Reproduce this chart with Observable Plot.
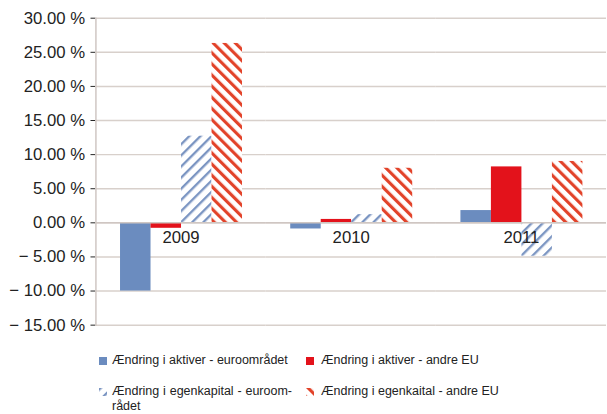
<!DOCTYPE html>
<html><head><meta charset="utf-8">
<script src="https://cdn.jsdelivr.net/npm/d3@7"></script>
<script src="https://cdn.jsdelivr.net/npm/@observablehq/plot@0.6"></script>
<style>
html,body{margin:0;padding:0;background:#fff;overflow:hidden;}
#chart{position:relative;width:607px;height:414px;overflow:hidden;font-family:"Liberation Sans",Arial,sans-serif;}
#chart svg.plot{position:absolute;left:0;top:0;}
svg [aria-label="y-axis tick"]{stroke:#cfc6c2;}
.lg{position:absolute;font-size:12.5px;color:#222;line-height:15px;white-space:nowrap;}
.sw{position:absolute;}
</style></head><body><div id="chart"></div>
<script>
const years = ["2009", "2010", "2011"];
const seriesNames = [
  "Ændring i aktiver - euroområdet",
  "Ændring i aktiver - andre EU",
  "Ændring i egenkapital - euroområdet",
  "Ændring i egenkaital - andre EU"
];
const aktiverEuro = [-10.0, -0.9, 1.8];
const aktiverAndreEU = [-0.8, 0.5, 8.2];
const egenkapitalEuro = [12.7, 1.2, -4.9];
const egenkapitalAndreEU = [26.3, 8.0, 9.0];
const yTicks = [-15, -10, -5, 0, 5, 10, 15, 20, 25, 30];
const seriesColors = ["#6b8cbf", "#e3121b", "url(#hatchBlue)", "url(#hatchRed)"];

const allSeries = [aktiverEuro, aktiverAndreEU, egenkapitalEuro, egenkapitalAndreEU];
const rows = [];
years.forEach((y, i) => allSeries.forEach((s, k) => rows.push({year: y, series: seriesNames[k], value: s[i]})));

const fmt = d => (d < 0 ? "\u2212 " + Math.abs(d).toFixed(2) : d.toFixed(2)) + " %";

const plot = Plot.plot({
  width: 617, height: 345,
  marginLeft: 96, marginRight: 0, marginTop: 18, marginBottom: 15,
  style: {fontFamily: "Liberation Sans, Arial, sans-serif", fontSize: "17px", color: "#222", background: "#fff"},
  fx: {domain: years, padding: 0, axis: null},
  x: {domain: seriesNames, paddingInner: 0, paddingOuter: 0.72, axis: null},
  y: {domain: [-15, 30], ticks: yTicks, tickFormat: fmt, tickSize: 5, tickPadding: 6, label: null},
  color: {type: "ordinal", domain: seriesNames, range: seriesColors},
  marks: [
    Plot.ruleY(yTicks, {stroke: "#d8d0cb", strokeWidth: 1.5}),
    Plot.barY(rows, {fx: "year", x: "series", y: "value", fill: "series"}),
    Plot.ruleY([0], {stroke: "#cfc6c2", strokeWidth: 1.5}),
    Plot.frame({anchor: "left", facet: "super", stroke: "#cfc6c2", strokeWidth: 1.5}),
    Plot.text(years, {fx: d => d, y: () => 0, text: d => d, dy: 15, fontSize: 17, fill: "#222"})
  ]
});

const ns = "http://www.w3.org/2000/svg";
function addDefs(svg) {
  const defs = document.createElementNS(ns, "defs");
  defs.innerHTML = `
    <pattern id="hatchBlue" patternUnits="userSpaceOnUse" width="8" height="8" patternTransform="rotate(45)">
      <rect width="8" height="8" fill="#fff"/>
      <rect x="0" y="0" width="2.4" height="8" fill="#7b95c2"/>
    </pattern>
    <pattern id="hatchRed" patternUnits="userSpaceOnUse" width="8" height="8" patternTransform="rotate(-45)">
      <rect width="8" height="8" fill="#fff"/>
      <rect x="0" y="0" width="3.2" height="8" fill="#e2432a"/>
    </pattern>`;
  svg.insertBefore(defs, svg.firstChild);
}
addDefs(plot);
const chart = document.getElementById("chart");
chart.appendChild(plot);

const legendItems = [
  {i: 0, left: 112, top: 353, sx: 99, sy: 357},
  {i: 1, left: 321, top: 353, sx: 306, sy: 357},
  {i: 2, left: 112, top: 384, sx: 99, sy: 388},
  {i: 3, left: 321, top: 384, sx: 306, sy: 388}
];
legendItems.forEach(it => {
  const sw = document.createElementNS(ns, "svg");
  sw.setAttribute("width", 8); sw.setAttribute("height", 8);
  sw.setAttribute("class", "sw");
  sw.style.left = it.sx + "px"; sw.style.top = it.sy + "px";
  const r = document.createElementNS(ns, "rect");
  r.setAttribute("width", 8); r.setAttribute("height", 8);
  r.setAttribute("fill", seriesColors[it.i]);
  sw.appendChild(r);
  chart.appendChild(sw);
  const d = document.createElement("div");
  d.className = "lg";
  d.style.left = it.left + "px"; d.style.top = it.top + "px";
  if (it.i === 2) {
    d.innerHTML = '<div style="width:180px;text-align:justify;text-align-last:justify;white-space:nowrap">Ændring i egenkapital - euroom-</div><div>rådet</div>';
  } else {
    d.textContent = seriesNames[it.i];
  }
  chart.appendChild(d);
});
</script>
</body></html>
